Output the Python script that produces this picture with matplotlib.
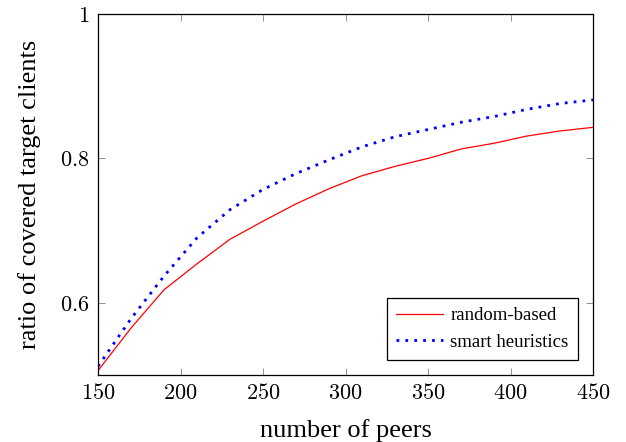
import matplotlib
matplotlib.use("Agg")
import matplotlib.pyplot as plt
import numpy as np

peers = [150, 170, 190, 210, 230, 250, 270, 290, 310, 330, 350, 370, 390, 410, 430, 450]
random_based = [0.506, 0.565, 0.618, 0.654, 0.688, 0.713, 0.737, 0.758, 0.776, 0.789, 0.800, 0.813, 0.821, 0.831, 0.838, 0.843]
smart_heuristics = [0.512, 0.578, 0.637, 0.690, 0.729, 0.757, 0.779, 0.798, 0.816, 0.830, 0.840, 0.850, 0.858, 0.868, 0.876, 0.881]
xticks = [150, 200, 250, 300, 350, 400, 450]
yticks = [0.6, 0.8, 1.0]
ytick_labels = ["0.6", "0.8", "1"]

plt.rcParams["mathtext.fontset"] = "cm"

fig = plt.figure(figsize=(6.26, 4.42), dpi=100)
ax = fig.add_axes([98 / 626, 1 - 375 / 442, 495 / 626, 361 / 442])

ax.plot(peers, random_based, color="red", lw=0.9, label="random-based")
ax.plot(peers, smart_heuristics, color="blue", lw=2, linestyle=(0, (1, 2.2)),
        label="smart heuristics")

ax.set_xlim(150, 450)
ax.set_ylim(0.5, 1.0)
ax.set_xticks(xticks)
ax.set_xticklabels([f"${t}$" for t in xticks])
ax.set_yticks(yticks)
ax.set_yticklabels([f"${t}$" for t in ytick_labels])
ax.tick_params(direction="in", top=True, right=True, length=5, width=0.6,
               color="#808080", labelsize=16, pad=6)
for s in ax.spines.values():
    s.set_linewidth(0.9)

ax.set_xlabel("number of peers", family="Liberation Serif", fontsize=19, labelpad=11)
ax.set_ylabel("ratio of covered target clients", family="Liberation Serif",
              fontsize=19, labelpad=14)

leg = ax.legend(loc="lower right", prop={"family": "Liberation Serif", "size": 13.5},
                fancybox=False, framealpha=1, edgecolor="black",
                borderaxespad=0.8, handlelength=2.5, handletextpad=0.4,
                borderpad=0.5)
leg.get_frame().set_linewidth(0.9)

fig.savefig("out.png", dpi=100)
